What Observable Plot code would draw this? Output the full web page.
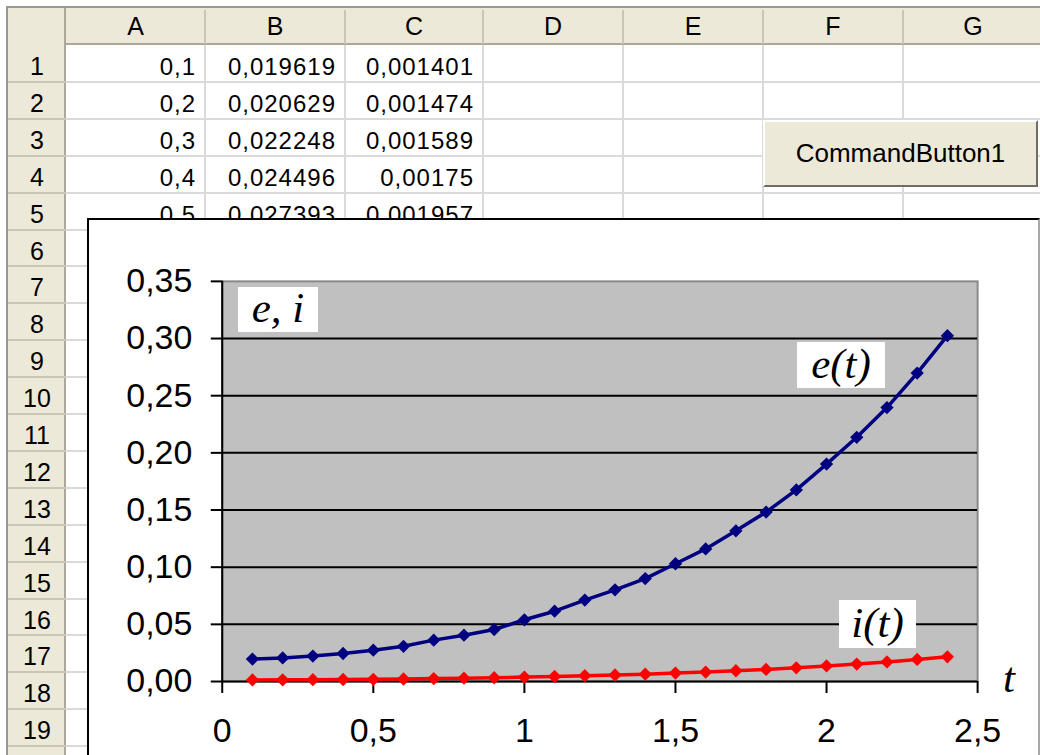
<!DOCTYPE html>
<html>
<head>
<meta charset="utf-8">
<script src="https://cdn.jsdelivr.net/npm/d3@7"></script>
<script src="https://cdn.jsdelivr.net/npm/@observablehq/plot@0.6"></script>
<style>
  html, body { margin: 0; padding: 0; background: #fff; }
  #page { position: relative; width: 1040px; height: 755px; overflow: hidden; background: #fff; font-family: "Liberation Sans", Arial, sans-serif; }
  .abs { position: absolute; box-sizing: border-box; }
  .hdr { background: #ECE9D8; color: #000; font-size: 25px; text-align: center; }
  .cell { font-size: 24px; letter-spacing: 1px; text-align: right; color: #000; white-space: nowrap; overflow: hidden; }
  .lbl { position: absolute; background: #fff; font-family: "Liberation Serif", "Times New Roman", serif; font-style: italic; font-size: 43px; color: #000; text-align: center; box-sizing: border-box; }
</style>
</head>
<body>
<div id="page"></div>
<script>
// ---- data ----
const tValues = [0.1,0.2,0.3,0.4,0.5,0.6,0.7,0.8,0.9,1.0,1.1,1.2,1.3,1.4,1.5,1.6,1.7,1.8,1.9,2.0,2.1,2.2,2.3,2.4];
const eValues = [0.019619,0.020629,0.022248,0.024496,0.027393,0.0308,0.0362,0.0405,0.0455,0.0540,0.0615,0.0712,0.0802,0.0900,0.1030,0.1160,0.1318,0.1482,0.1676,0.1902,0.2136,0.2396,0.2698,0.3025];
const iValues = [0.001401,0.001474,0.001589,0.00175,0.001957,0.0022,0.0026,0.0029,0.0033,0.0039,0.0044,0.0051,0.0057,0.0064,0.0074,0.0083,0.0094,0.0106,0.0120,0.0136,0.0153,0.0171,0.0193,0.0216];
const xTicks = [0,0.5,1,1.5,2,2.5];
const yTicks = [0,0.05,0.10,0.15,0.20,0.25,0.30,0.35];
const columnLetters = ["A","B","C","D","E","F","G"];
const rowNumbers = [1,2,3,4,5,6,7,8,9,10,11,12,13,14,15,16,17,18,19];
const visibleDataRows = 5;
const buttonText = "CommandButton1";
const labelEI = "e, i", labelE = "e(t)", labelI = "i(t)", labelT = "t";

const page = document.getElementById("page");
function div(cls, style, text) {
  const d = document.createElement("div");
  d.className = cls;
  Object.assign(d.style, style);
  if (text != null) d.textContent = text;
  page.appendChild(d);
  return d;
}
const comma = v => String(v).replace(".", ",");

// ---- spreadsheet background ----
const colEdges = [66,205,345,483,623,763,903,1043];
const rowTop = 45, rowH = 36.9;
div("abs", {left:"6px", top:"6px", width:"1040px", height:"760px", borderLeft:"2px solid #9A9890", borderTop:"2px solid #9A9890"});
div("abs hdr", {left:"8px", top:"8px", width:"1040px", height:"37px", borderBottom:"2px solid #ACA899"});
div("abs hdr", {left:"8px", top:"8px", width:"58px", height:"760px", borderRight:"2px solid #ACA899"});
rowNumbers.forEach((r, k) => {
  const y = rowTop + (k + 1) * rowH;
  div("abs", {left:"66px", top:(y - 1) + "px", width:"980px", height:"2px", background:"#DADADA"});
  div("abs", {left:"8px", top:(y - 1) + "px", width:"58px", height:"2px", background:"#C9C6B8"});
  div("abs hdr", {left:"8px", top:(rowTop + k * rowH + 3) + "px", width:"58px", height:rowH + "px", lineHeight:rowH + "px", background:"transparent"}, String(r));
});
columnLetters.forEach((c, k) => {
  const x0 = colEdges[k], x1 = colEdges[k + 1];
  div("abs", {left:(x1 - 1) + "px", top:"45px", width:"2px", height:"720px", background:"#DADADA"});
  div("abs", {left:(x1 - 1) + "px", top:"10px", width:"2px", height:"34px", background:"#C9C6B8"});
  div("abs hdr", {left:x0 + "px", top:"8px", width:(x1 - x0) + "px", height:"36px", lineHeight:"36px", background:"transparent"}, c);
});
// cell values (rows that are not hidden behind the chart)
tValues.slice(0, visibleDataRows).forEach((t, k) => {
  const y = rowTop + k * rowH + 4;
  const vals = [comma(t), comma(eValues[k]), comma(iValues[k])];
  vals.forEach((v, c) => {
    div("abs cell", {left:colEdges[c] + "px", top:y + "px", width:(colEdges[c + 1] - colEdges[c] - 9) + "px", height:rowH + "px", lineHeight:rowH + "px"}, v);
  });
});
// command button
div("abs", {left:"763px", top:"120px", width:"275px", height:"67px", background:"#ECE9D8",
  borderTop:"2px solid #FFFFFF", borderLeft:"2px solid #FFFFFF", borderRight:"2px solid #716F64", borderBottom:"2px solid #716F64",
  fontSize:"26px", textAlign:"center", lineHeight:"63px", color:"#000"}, buttonText);

// ---- chart box ----
const box = div("abs", {left:"87px", top:"218px", width:"953px", height:"560px", background:"#fff",
  borderLeft:"2px solid #000", borderTop:"2px solid #000", borderRight:"2px solid #A8A8A8"});

const data = tValues.map((t, k) => ({t, e: eValues[k], i: iValues[k]}));
const chart = Plot.plot({
  width: 951, height: 535,
  marginLeft: 133, marginRight: 61, marginTop: 61, marginBottom: 73,
  style: {fontFamily: "'Liberation Sans', Arial, sans-serif", fontSize: "34px", background: "transparent", color: "#000", overflow: "visible"},
  x: {domain: [0, 2.5]},
  y: {domain: [0, 0.35]},
  marks: [
    Plot.frame({fill: "#C0C0C0", stroke: "#8A8A8A", strokeWidth: 2}),
    Plot.gridY(yTicks.filter(v => v > 0 && v < 0.35), {stroke: "#000", strokeOpacity: 1, strokeWidth: 2}),
    Plot.ruleX([0], {stroke: "#000", strokeWidth: 2}),
    Plot.ruleY([0], {stroke: "#000", strokeWidth: 2}),
    Plot.axisY(yTicks, {tickSize: 11, tickPadding: 19, strokeWidth: 2, stroke: "#000", label: null, tickFormat: d => d.toFixed(2).replace(".", ",")}),
    Plot.axisX(xTicks, {tickSize: 12, tickPadding: 24, strokeWidth: 2, stroke: "#000", label: null, tickFormat: d => String(d).replace(".", ",")}),
    Plot.line(data, {x: "t", y: "i", stroke: "#FF0000", strokeWidth: 3.5}),
    Plot.dot(data, {x: "t", y: "i", fill: "#FF0000", symbol: "diamond2", r: 6}),
    Plot.line(data, {x: "t", y: "e", stroke: "#000080", strokeWidth: 3.5}),
    Plot.dot(data, {x: "t", y: "e", fill: "#000080", symbol: "diamond2", r: 6})
  ]
});
chart.style.position = "absolute";
chart.style.left = "0px";
chart.style.top = "0px";
box.appendChild(chart);

// ---- chart annotations ----
div("lbl", {left:"238px", top:"287px", width:"80px", height:"45px", lineHeight:"42px"}, labelEI);
div("lbl", {left:"797px", top:"342px", width:"88px", height:"46px", lineHeight:"44px"}, labelE);
div("lbl", {left:"839px", top:"600px", width:"77px", height:"48px", lineHeight:"46px"}, labelI);
div("lbl", {left:"994px", top:"656px", width:"30px", height:"44px", lineHeight:"44px", background:"transparent"}, labelT);
</script>
</body>
</html>
